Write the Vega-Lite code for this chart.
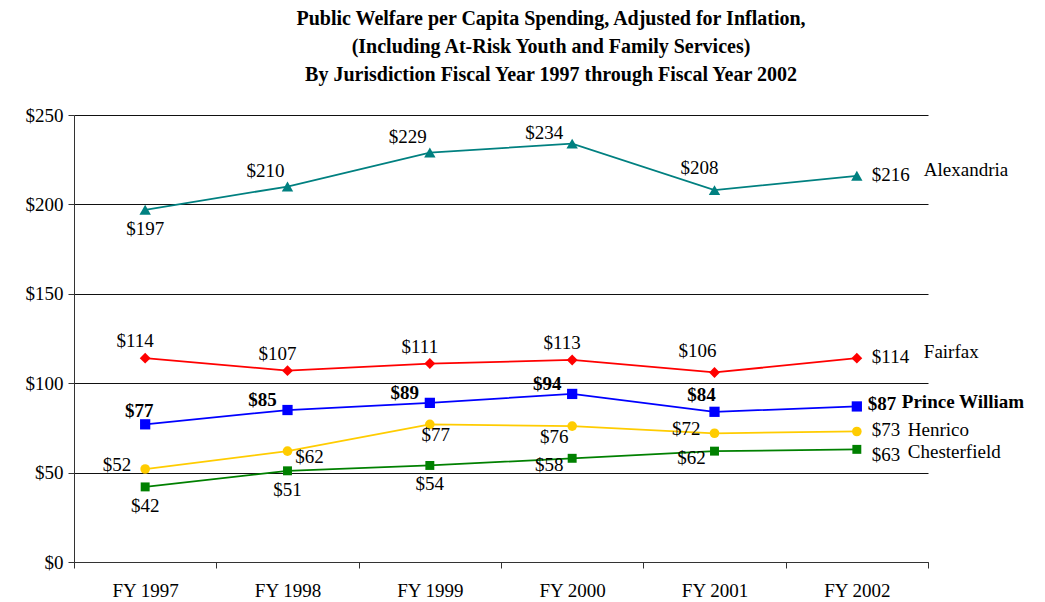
{
  "$schema": "https://vega.github.io/schema/vega-lite/v6.json",
  "width": 854,
  "height": 447,
  "autosize": "none",
  "padding": {"left": 74, "top": 115, "right": 117, "bottom": 40},
  "background": "white",
  "config": {"view": {"stroke": null}, "font": "Liberation Serif"},
  "title": {
    "text": ["Public Welfare per Capita Spending, Adjusted for Inflation,", "(Including At-Risk Youth and Family Services)", "By Jurisdiction Fiscal Year 1997 through Fiscal Year 2002"],
    "font": "Liberation Serif", "fontSize": 20, "fontWeight": "bold", "lineHeight": 28,
    "anchor": "middle", "dx": 50, "offset": 21, "color": "black"
  },
  "data": {"values": [
    {"series": "Alexandria", "year": "FY 1997", "value": 197},
    {"series": "Alexandria", "year": "FY 1998", "value": 210},
    {"series": "Alexandria", "year": "FY 1999", "value": 229},
    {"series": "Alexandria", "year": "FY 2000", "value": 234},
    {"series": "Alexandria", "year": "FY 2001", "value": 208},
    {"series": "Alexandria", "year": "FY 2002", "value": 216},
    {"series": "Fairfax", "year": "FY 1997", "value": 114},
    {"series": "Fairfax", "year": "FY 1998", "value": 107},
    {"series": "Fairfax", "year": "FY 1999", "value": 111},
    {"series": "Fairfax", "year": "FY 2000", "value": 113},
    {"series": "Fairfax", "year": "FY 2001", "value": 106},
    {"series": "Fairfax", "year": "FY 2002", "value": 114},
    {"series": "Prince William", "year": "FY 1997", "value": 77},
    {"series": "Prince William", "year": "FY 1998", "value": 85},
    {"series": "Prince William", "year": "FY 1999", "value": 89},
    {"series": "Prince William", "year": "FY 2000", "value": 94},
    {"series": "Prince William", "year": "FY 2001", "value": 84},
    {"series": "Prince William", "year": "FY 2002", "value": 87},
    {"series": "Henrico", "year": "FY 1997", "value": 52},
    {"series": "Henrico", "year": "FY 1998", "value": 62},
    {"series": "Henrico", "year": "FY 1999", "value": 77},
    {"series": "Henrico", "year": "FY 2000", "value": 76},
    {"series": "Henrico", "year": "FY 2001", "value": 72},
    {"series": "Henrico", "year": "FY 2002", "value": 73},
    {"series": "Chesterfield", "year": "FY 1997", "value": 42},
    {"series": "Chesterfield", "year": "FY 1998", "value": 51},
    {"series": "Chesterfield", "year": "FY 1999", "value": 54},
    {"series": "Chesterfield", "year": "FY 2000", "value": 58},
    {"series": "Chesterfield", "year": "FY 2001", "value": 62},
    {"series": "Chesterfield", "year": "FY 2002", "value": 63}
  ]},
  "encoding": {
    "x": {"field": "year", "type": "ordinal", "title": null,
      "scale": {"type": "band", "paddingInner": 0, "paddingOuter": 0},
      "axis": {"tickBand": "extent", "labelAngle": 0, "labelFont": "Liberation Serif", "labelFontSize": 19, "labelColor": "black", "labelPadding": 13, "tickSize": 6, "tickColor": "#333", "domainColor": "#333", "grid": false}},
    "y": {"field": "value", "type": "quantitative", "title": null,
      "scale": {"domain": [0, 250], "nice": false},
      "axis": {"values": [0, 50, 100, 150, 200, 250], "format": "$.0f", "labelFont": "Liberation Serif", "labelFontSize": 19, "labelColor": "black", "labelPadding": 5, "tickSize": 6, "tickColor": "#333", "domainColor": "#333", "grid": true, "gridColor": "#111", "gridOpacity": 1, "gridWidth": 1}}
  },
  "layer": [
    {"mark": {"type": "line"},
     "encoding": {
       "color": {"field": "series", "type": "nominal", "legend": null, "scale": {"domain": ["Alexandria", "Fairfax", "Prince William", "Henrico", "Chesterfield"], "range": ["#008080", "#FF0000", "#0000FF", "#FFCC00", "#008000"]}},
       "strokeWidth": {"field": "series", "type": "nominal", "legend": null, "scale": {"domain": ["Alexandria", "Fairfax", "Prince William", "Henrico", "Chesterfield"], "range": [1.75, 1.75, 4.5, 1.75, 1.75]}}
     }},
    {"mark": {"type": "point", "filled": true, "opacity": 1},
     "encoding": {
       "color": {"field": "series", "type": "nominal", "legend": null, "scale": {"domain": ["Alexandria", "Fairfax", "Prince William", "Henrico", "Chesterfield"], "range": ["#008080", "#FF0000", "#0000FF", "#FFCC00", "#008000"]}},
       "shape": {"field": "series", "type": "nominal", "legend": null, "scale": {"domain": ["Alexandria", "Fairfax", "Prince William", "Henrico", "Chesterfield"], "range": ["triangle-up", "diamond", "square", "circle", "square"]}},
       "size": {"field": "series", "type": "nominal", "legend": null, "scale": {"domain": ["Alexandria", "Fairfax", "Prince William", "Henrico", "Chesterfield"], "range": [130, 80, 220, 100, 110]}}
     }},
    {"transform": [{"filter": "datum.series==='Alexandria' && datum.year==='FY 1997'"}],
     "mark": {"type": "text", "font": "Liberation Serif", "fontSize": 19, "baseline": "middle", "align": "center", "color": "black", "dx": 0, "dy": 19},
     "encoding": {"text": {"field": "value", "type": "quantitative", "format": "$.0f"}}},
    {"transform": [{"filter": "datum.series==='Alexandria' && (datum.year==='FY 1998' || datum.year==='FY 1999')"}],
     "mark": {"type": "text", "font": "Liberation Serif", "fontSize": 19, "baseline": "middle", "align": "center", "color": "black", "dx": -22, "dy": -16},
     "encoding": {"text": {"field": "value", "type": "quantitative", "format": "$.0f"}}},
    {"transform": [{"filter": "datum.series==='Alexandria' && datum.year==='FY 2000'"}],
     "mark": {"type": "text", "font": "Liberation Serif", "fontSize": 19, "baseline": "middle", "align": "center", "color": "black", "dx": -28, "dy": -11},
     "encoding": {"text": {"field": "value", "type": "quantitative", "format": "$.0f"}}},
    {"transform": [{"filter": "datum.series==='Alexandria' && datum.year==='FY 2001'"}],
     "mark": {"type": "text", "font": "Liberation Serif", "fontSize": 19, "baseline": "middle", "align": "center", "color": "black", "dx": -15, "dy": -22},
     "encoding": {"text": {"field": "value", "type": "quantitative", "format": "$.0f"}}},
    {"transform": [{"filter": "datum.series==='Fairfax' && datum.year!=='FY 2001' && datum.year!=='FY 2002'"}],
     "mark": {"type": "text", "font": "Liberation Serif", "fontSize": 19, "baseline": "middle", "align": "center", "color": "black", "dx": -10, "dy": -17},
     "encoding": {"text": {"field": "value", "type": "quantitative", "format": "$.0f"}}},
    {"transform": [{"filter": "datum.series==='Fairfax' && datum.year==='FY 2001'"}],
     "mark": {"type": "text", "font": "Liberation Serif", "fontSize": 19, "baseline": "middle", "align": "center", "color": "black", "dx": -17, "dy": -21},
     "encoding": {"text": {"field": "value", "type": "quantitative", "format": "$.0f"}}},
    {"transform": [{"filter": "datum.series==='Prince William' && datum.year==='FY 1997'"}],
     "mark": {"type": "text", "font": "Liberation Serif", "fontSize": 19, "fontWeight": "bold", "baseline": "middle", "align": "center", "color": "black", "dx": -6, "dy": -13},
     "encoding": {"text": {"field": "value", "type": "quantitative", "format": "$.0f"}}},
    {"transform": [{"filter": "datum.series==='Prince William' && (datum.year==='FY 1998' || datum.year==='FY 1999' || datum.year==='FY 2000')"}],
     "mark": {"type": "text", "font": "Liberation Serif", "fontSize": 19, "fontWeight": "bold", "baseline": "middle", "align": "center", "color": "black", "dx": -25, "dy": -10},
     "encoding": {"text": {"field": "value", "type": "quantitative", "format": "$.0f"}}},
    {"transform": [{"filter": "datum.series==='Prince William' && datum.year==='FY 2001'"}],
     "mark": {"type": "text", "font": "Liberation Serif", "fontSize": 19, "fontWeight": "bold", "baseline": "middle", "align": "center", "color": "black", "dx": -13, "dy": -17},
     "encoding": {"text": {"field": "value", "type": "quantitative", "format": "$.0f"}}},
    {"transform": [{"filter": "datum.series==='Henrico' && (datum.year==='FY 1997' || datum.year==='FY 2001')"}],
     "mark": {"type": "text", "font": "Liberation Serif", "fontSize": 19, "baseline": "middle", "align": "right", "color": "black", "dx": -14, "dy": -4},
     "encoding": {"text": {"field": "value", "type": "quantitative", "format": "$.0f"}}},
    {"transform": [{"filter": "datum.series==='Henrico' && datum.year==='FY 1998'"}],
     "mark": {"type": "text", "font": "Liberation Serif", "fontSize": 19, "baseline": "middle", "align": "center", "color": "black", "dx": 22, "dy": 6},
     "encoding": {"text": {"field": "value", "type": "quantitative", "format": "$.0f"}}},
    {"transform": [{"filter": "datum.series==='Henrico' && datum.year==='FY 1999'"}],
     "mark": {"type": "text", "font": "Liberation Serif", "fontSize": 19, "baseline": "middle", "align": "center", "color": "black", "dx": 6, "dy": 11},
     "encoding": {"text": {"field": "value", "type": "quantitative", "format": "$.0f"}}},
    {"transform": [{"filter": "datum.series==='Henrico' && datum.year==='FY 2000'"}],
     "mark": {"type": "text", "font": "Liberation Serif", "fontSize": 19, "baseline": "middle", "align": "center", "color": "black", "dx": -18, "dy": 11},
     "encoding": {"text": {"field": "value", "type": "quantitative", "format": "$.0f"}}},
    {"transform": [{"filter": "datum.series==='Chesterfield' && (datum.year==='FY 1997' || datum.year==='FY 1998' || datum.year==='FY 1999')"}],
     "mark": {"type": "text", "font": "Liberation Serif", "fontSize": 19, "baseline": "middle", "align": "center", "color": "black", "dx": 0, "dy": 19},
     "encoding": {"text": {"field": "value", "type": "quantitative", "format": "$.0f"}}},
    {"transform": [{"filter": "datum.series==='Chesterfield' && (datum.year==='FY 2000' || datum.year==='FY 2001')"}],
     "mark": {"type": "text", "font": "Liberation Serif", "fontSize": 19, "baseline": "middle", "align": "center", "color": "black", "dx": -23, "dy": 7},
     "encoding": {"text": {"field": "value", "type": "quantitative", "format": "$.0f"}}},
    {"transform": [{"filter": "datum.year==='FY 2002' && (datum.series==='Alexandria' || datum.series==='Fairfax' || datum.series==='Henrico')"}],
     "mark": {"type": "text", "font": "Liberation Serif", "fontSize": 19, "baseline": "middle", "align": "left", "color": "black", "dx": 15, "dy": -1},
     "encoding": {"text": {"field": "value", "type": "quantitative", "format": "$.0f"}}},
    {"transform": [{"filter": "datum.year==='FY 2002' && datum.series==='Chesterfield'"}],
     "mark": {"type": "text", "font": "Liberation Serif", "fontSize": 19, "baseline": "middle", "align": "left", "color": "black", "dx": 15, "dy": 6},
     "encoding": {"text": {"field": "value", "type": "quantitative", "format": "$.0f"}}},
    {"transform": [{"filter": "datum.year==='FY 2002' && datum.series==='Prince William'"}],
     "mark": {"type": "text", "font": "Liberation Serif", "fontSize": 19, "fontWeight": "bold", "baseline": "middle", "align": "left", "color": "black", "dx": 11, "dy": -2},
     "encoding": {"text": {"field": "value", "type": "quantitative", "format": "$.0f"}}},
    {"transform": [{"filter": "datum.year==='FY 2002' && (datum.series==='Alexandria' || datum.series==='Fairfax')"}],
     "mark": {"type": "text", "font": "Liberation Serif", "fontSize": 19, "baseline": "middle", "align": "left", "color": "black", "dx": 67, "dy": -6},
     "encoding": {"text": {"field": "series", "type": "nominal"}}},
    {"transform": [{"filter": "datum.year==='FY 2002' && datum.series==='Prince William'"}],
     "mark": {"type": "text", "font": "Liberation Serif", "fontSize": 19, "fontWeight": "bold", "baseline": "middle", "align": "left", "color": "black", "dx": 45, "dy": -4},
     "encoding": {"text": {"field": "series", "type": "nominal"}}},
    {"transform": [{"filter": "datum.year==='FY 2002' && datum.series==='Henrico'"}],
     "mark": {"type": "text", "font": "Liberation Serif", "fontSize": 19, "baseline": "middle", "align": "left", "color": "black", "dx": 51, "dy": -1},
     "encoding": {"text": {"field": "series", "type": "nominal"}}},
    {"transform": [{"filter": "datum.year==='FY 2002' && datum.series==='Chesterfield'"}],
     "mark": {"type": "text", "font": "Liberation Serif", "fontSize": 19, "baseline": "middle", "align": "left", "color": "black", "dx": 51, "dy": 3},
     "encoding": {"text": {"field": "series", "type": "nominal"}}}
  ]
}
